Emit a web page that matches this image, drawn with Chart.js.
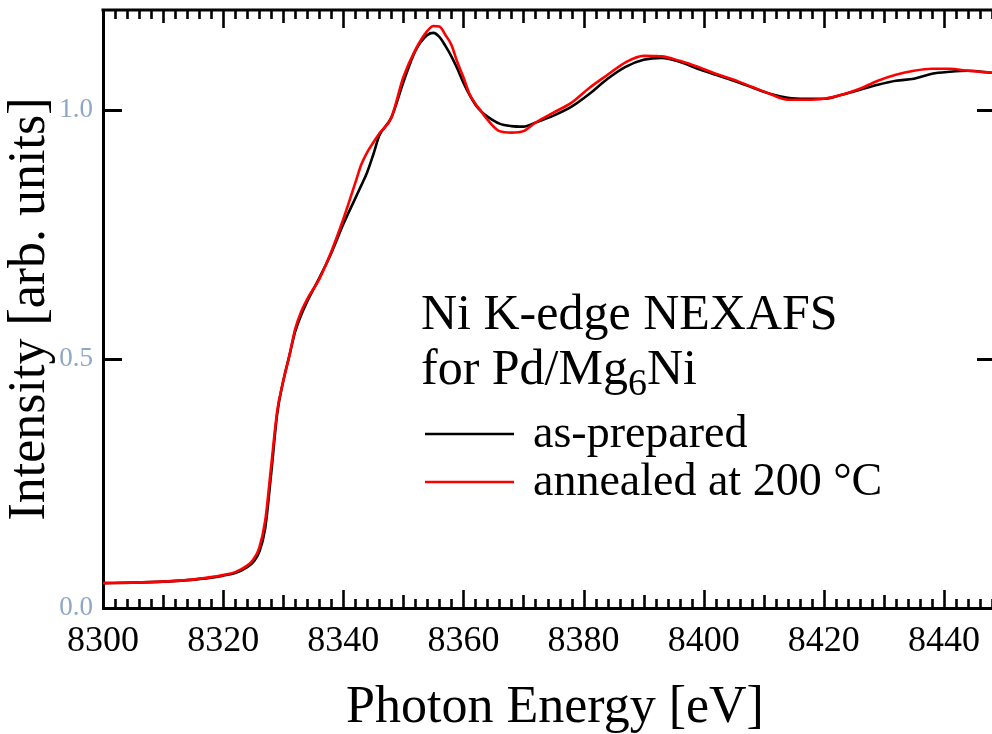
<!DOCTYPE html>
<html><head><meta charset="utf-8">
<script src="https://cdn.jsdelivr.net/npm/chart.js@4.4.1/dist/chart.umd.min.js"></script>
<style>html,body{margin:0;padding:0;background:#fff;overflow:hidden}</style>
</head><body>
<canvas id="c" width="992" height="734"></canvas>
<script>
// ---- data ----
const energy = [8300,8305,8310,8314,8318,8320,8322,8324,8325,8326,8327,8328,8329,8330,8331,8332,8333,8334,8336,8338,8340,8342,8343,8344,8345,8346,8348,8350,8352,8354,8355,8356,8357,8358,8359,8360,8361,8362,8363,8364,8366,8368,8370,8372,8375,8378,8381,8384,8387,8390,8393,8396,8399,8402,8405,8408,8411,8414,8417,8420,8423,8426,8429,8432,8435,8438,8441,8444,8448];
const asPrepared = [0.050,0.051,0.053,0.056,0.061,0.065,0.070,0.082,0.092,0.112,0.160,0.270,0.390,0.455,0.505,0.555,0.588,0.615,0.662,0.712,0.770,0.822,0.848,0.875,0.910,0.948,0.984,1.055,1.118,1.150,1.154,1.146,1.128,1.107,1.082,1.054,1.030,1.010,0.996,0.986,0.972,0.967,0.966,0.974,0.988,1.006,1.032,1.062,1.086,1.100,1.104,1.096,1.082,1.070,1.058,1.045,1.032,1.024,1.022,1.022,1.030,1.040,1.050,1.058,1.062,1.072,1.076,1.078,1.074];
const annealed   = [0.050,0.051,0.053,0.056,0.062,0.066,0.072,0.085,0.097,0.120,0.175,0.285,0.395,0.455,0.505,0.560,0.595,0.620,0.660,0.715,0.780,0.853,0.890,0.915,0.934,0.952,0.984,1.065,1.120,1.158,1.168,1.167,1.150,1.130,1.095,1.065,1.032,1.012,0.996,0.980,0.957,0.954,0.957,0.974,0.994,1.014,1.044,1.070,1.095,1.108,1.107,1.098,1.086,1.072,1.060,1.046,1.032,1.020,1.020,1.022,1.030,1.042,1.058,1.070,1.078,1.082,1.082,1.078,1.074];
const xTickValues = [8300,8320,8340,8360,8380,8400,8420,8440];
const yTickValues = [0.0,0.5,1.0];
const seriesNames = ['as-prepared','annealed at 200 \u00B0C'];
const seriesColors = ['#000000','#ff0000'];
const noteLine1 = 'Ni K-edge NEXAFS';
const noteLine2 = ['for Pd/Mg','6','Ni'];
const xTitle = 'Photon Energy [eV]';
const yTitle = 'Intensity [arb. units]';

const SERIF = '"Liberation Serif", "Times New Roman", serif';

const frameTicks = {
  id: 'frameTicks',
  afterDatasetsDraw(chart) {
    const {ctx, chartArea: {left, right, top, bottom}, scales: {x, y}} = chart;
    ctx.save();
    ctx.strokeStyle = '#000';
    ctx.lineWidth = 3;
    ctx.beginPath(); ctx.moveTo(left - 1.5, top); ctx.lineTo(right, top); ctx.stroke();
    ctx.lineWidth = 2.6;
    for (let v = 8300; v <= x.max + 1e-9; v += 2) {
      const px = Math.round(x.getPixelForValue(v)) + 0.5;
      const d = v - 8300;
      const len = d % 20 === 0 ? 18 : (d % 10 === 0 ? 13 : 9);
      ctx.beginPath(); ctx.moveTo(px, bottom); ctx.lineTo(px, bottom - len); ctx.stroke();
      ctx.beginPath(); ctx.moveTo(px, top); ctx.lineTo(px, top + len); ctx.stroke();
    }
    ctx.lineWidth = 3;
    yTickValues.forEach(v => {
      if (v === 0) return;
      const py = Math.round(y.getPixelForValue(v)) + 0.5;
      ctx.beginPath(); ctx.moveTo(left, py); ctx.lineTo(left + 19, py); ctx.stroke();
      ctx.beginPath(); ctx.moveTo(right, py); ctx.lineTo(right - 15, py); ctx.stroke();
    });
    // x axis title
    ctx.fillStyle = '#000';
    ctx.textAlign = 'center';
    ctx.textBaseline = 'alphabetic';
    ctx.font = '52px ' + SERIF;
    ctx.fillText(xTitle, 555, 722);
    // note + legend
    ctx.textAlign = 'left';
    ctx.font = '50px ' + SERIF;
    ctx.fillText(noteLine1, 421, 329);
    let tx = 421;
    ctx.fillText(noteLine2[0], tx, 384); tx += ctx.measureText(noteLine2[0]).width;
    ctx.font = '38px ' + SERIF;
    ctx.fillText(noteLine2[1], tx, 395); tx += ctx.measureText(noteLine2[1]).width;
    ctx.font = '50px ' + SERIF;
    ctx.fillText(noteLine2[2], tx, 384);
    ctx.font = '46px ' + SERIF;
    const rows = [447, 495];
    seriesNames.forEach((name, i) => {
      ctx.strokeStyle = seriesColors[i];
      ctx.lineWidth = 2.6;
      ctx.beginPath(); ctx.moveTo(425, rows[i] - 13); ctx.lineTo(514, rows[i] - 13); ctx.stroke();
      ctx.fillText(name, 533, rows[i]);
    });
    ctx.restore();
  }
};

new Chart(document.getElementById('c'), {
  type: 'line',
  data: {
    datasets: [
      {label: seriesNames[0], data: energy.map((e, i) => ({x: e, y: asPrepared[i]})), borderColor: seriesColors[0], borderWidth: 2.6, pointRadius: 0, cubicInterpolationMode: 'monotone', order: 1},
      {label: seriesNames[1], data: energy.map((e, i) => ({x: e, y: annealed[i]})), borderColor: seriesColors[1], borderWidth: 2.6, pointRadius: 0, cubicInterpolationMode: 'monotone', order: 0}
    ]
  },
  options: {
    responsive: false,
    animation: false,
    devicePixelRatio: 1,
    layout: {padding: {top: 10, right: 0, left: 0, bottom: 0}},
    plugins: {legend: {display: false}, tooltip: {enabled: false}},
    scales: {
      x: {
        type: 'linear', min: 8300, max: 8448,
        afterBuildTicks: s => { s.ticks = xTickValues.map(v => ({value: v})); },
        afterFit: s => { s.height = 126; s.paddingLeft = 0; s.paddingRight = 0; },
        grid: {display: true, drawOnChartArea: false, drawTicks: false},
        border: {display: true, color: '#000', width: 3},
        ticks: {font: {family: SERIF, size: 36, lineHeight: 1}, color: '#000', padding: 16, maxRotation: 0, autoSkip: false, callback: v => String(v)},
        title: {display: false}
      },
      y: {
        type: 'linear', min: 0, max: 1.2,
        afterBuildTicks: s => { s.ticks = yTickValues.map(v => ({value: v})); },
        afterFit: s => { s.width = 103; s.paddingTop = 0; s.paddingBottom = 0; },
        grid: {display: true, drawOnChartArea: false, drawTicks: false},
        border: {display: true, color: '#000', width: 3},
        ticks: {font: {family: SERIF, size: 27, lineHeight: 1}, color: '#8ea6c8', padding: 10, callback: v => v.toFixed(1)},
        title: {display: true, text: yTitle, font: {family: SERIF, size: 52, lineHeight: 1}, color: '#000', padding: {top: 4, bottom: 0}}
      }
    }
  },
  plugins: [frameTicks]
});
</script>
</body></html>
